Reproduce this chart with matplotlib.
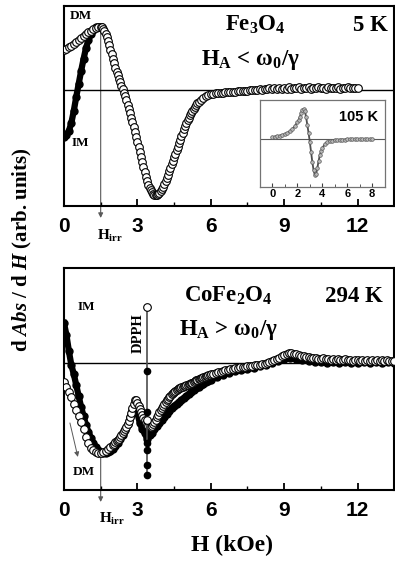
import numpy as np
import matplotlib
matplotlib.use('Agg')
import matplotlib.pyplot as plt
from matplotlib.ticker import MultipleLocator

plt.rcParams['mathtext.fontset'] = 'custom'
plt.rcParams['mathtext.rm'] = 'Liberation Serif:bold'
plt.rcParams['mathtext.it'] = 'Liberation Serif:italic:bold'
plt.rcParams['mathtext.bf'] = 'Liberation Serif:bold'

SERIF = 'Liberation Serif'
SANS = 'Liberation Sans'


def grid(start, stop, step):
    return np.round(np.arange(start, stop + step / 10, step), 2)


# Fe3O4, 5 K
fe_field = np.concatenate([grid(0, 1.5, 0.1), grid(1.55, 5.5, 0.05), grid(5.6, 12.0, 0.1)])
fe_open = [40, 41, 43, 44, 46, 48, 50, 52, 54, 56, 58, 59, 61, 62, 63, 63,
           62.5, 61, 59, 56, 53, 49, 45, 40, 36, 31,
           27, 22, 18, 15, 11, 8, 4, 1, -3, -6,
           -10, -15, -19, -23, -28, -32, -37, -42, -47, -52,
           -57, -62, -67, -72, -77, -82, -87, -91, -95, -98,
           -100, -102, -104, -105, -105.5, -105, -104, -103, -101, -99,
           -97, -94, -91, -88, -85, -81, -78, -74, -71, -67,
           -64, -60, -57, -53, -50, -46, -43, -39, -36, -33,
           -30, -28, -25, -23, -21, -19, -17, -15, -13.5, -12,
           -10, -8, -6.5, -5.5, -4.5, -4, -3.5, -3.5, -3, -3,
           -2.5, -2.5, -2, -2, -2, -1.5, -1.5, -1, -1, -1,
           -0.5, -0.5, 0, 0, 0.5, 0, 1, 0.5, 1.5, 0.5,
           1.5, 1, 2, 1, 2, 1, 2.5, 1, 2, 1.5,
           2.5, 1, 2, 1.5, 2.5, 1, 2, 1.5, 2.5, 1.5,
           2, 1, 2.5, 1.5, 2, 1.5, 2.5, 1, 2, 1.5,
           2.5, 1.5, 2, 1.5, 2]
fe_closed_field = grid(0, 1.5, 0.1)
fe_closed = [-47, -45, -41, -33, -21, -7, 6, 19, 31, 42, 50, 56, 60, 63, 63, 63]
fe_h_irr = 1.5

# Fe3O4, 105 K (inset)
inset_field = np.concatenate([grid(0, 1.8, 0.2), grid(2.0, 3.9, 0.1), grid(4.0, 8.0, 0.2)])
inset_signal = [2, 2.5, 3, 3.5, 4, 5, 6, 8, 10, 13,
                17, 19, 22, 26, 29, 30, 28, 22, 14, 6,
                -3, -13, -23, -31, -36, -35, -29, -22, -16, -12,
                -9, -5, -3, -2, -1.5, -1, -1, -0.5, -0.5, -0.5,
                0, 0, 0, 0, 0, 0, 0, 0, 0, 0, 0]

# CoFe2O4, 294 K
co_open_field = np.concatenate([grid(0, 1.9, 0.1), grid(2.0, 6.0, 0.05), grid(6.1, 13.5, 0.1)])
co_open = [-19, -24, -29, -34, -41, -47, -53, -59, -66, -74,
           -80, -85, -87, -89, -90, -90, -89, -88, -86, -84,
           -82, -81, -79, -78, -77, -75.5, -74, -72, -70, -68,
           -66, -63.5, -61, -58, -54, -50, -45, -41, -37, -37,
           -40, -43, -46, -49, -52, -55, -57, -60, -62, -63,
           -64, -64, -63, -61, -59, -57, -54, -51.5, -49, -47,
           -45, -43, -41, -39, -37, -35.5, -34, -32.5, -31, -30,
           -29, -28, -27, -26, -25, -24.5, -24, -23.5, -23, -22.5,
           -22, -21.5, -21, -20.5, -20, -19.5, -19, -18, -17, -16.5,
           -16, -15.5, -15, -14.5, -14, -13.5, -13, -12.5, -12, -11.5,
           -11,
           -10.5, -10, -9, -8.5, -8, -7, -6.5, -6, -5.5, -5,
           -4.5, -4, -4, -3.5, -3, -3, -2.5, -2, -2, -1.5,
           -1, -0.5, 0, 1, 2, 3, 4, 5.5, 7, 8,
           9, 10, 10, 9.5, 9, 8, 7.5, 7, 6.5, 6,
           5.5, 5, 5.5, 4.5, 4, 5, 4, 4.5, 3.5, 4,
           3, 4.5, 3.5, 3, 4, 3, 3.5, 2.5, 3.5, 3,
           2.5, 3.5, 2.5, 3, 2, 3.5, 2.5, 3, 2, 3,
           2.5, 3, 2, 2.5, 2]
co_closed_field = np.concatenate([grid(0, 6.0, 0.1), grid(6.25, 13.5, 0.25)])
co_closed = [40, 28, 12, -2, -11, -22, -33, -44, -53, -62,
             -69, -75, -80, -84, -87, -89, -90, -90, -89, -88,
             -86, -83, -80, -76, -72, -67, -61, -54, -47, -43,
             -50, -60, -66, -70, -76, -72, -70, -66, -63, -60,
             -57, -54, -51, -48, -45, -43, -41, -39, -37, -35,
             -33, -31, -29, -27, -25, -24, -22, -21, -19, -18,
             -17,
             -14, -12, -10, -8, -7, -6, -5, -3, -2, 0, 2, 4, 5, 4, 3,
             2, 1, 1, 0, 1, 0, 1, 0, 0, 1, 0, 1, 0, 1, 0]
co_h_irr = 1.5

# DPPH marker line
dpph_field = 3.4
dpph_open = [56, -57]
dpph_closed = [-8, -49, -80, -87, -102, -112]

fig = plt.figure(figsize=(3.95, 5.62), dpi=100)
ax1 = fig.add_axes([0.162, 0.6335, 0.836, 0.3559])
ax2 = fig.add_axes([0.162, 0.1281, 0.836, 0.395])

open_style = dict(ls='none', marker='o', ms=5.5, mfc='white', mec='black', mew=0.8)
closed_style = dict(ls='-', lw=4.5, marker='o', ms=5, color='black')


def style_axis(ax, ylim):
    ax.set_xlim(0, 13.5)
    ax.set_ylim(*ylim)
    ax.axhline(0, color='black', lw=1, zorder=1)
    ax.xaxis.set_major_locator(MultipleLocator(3))
    ax.xaxis.set_minor_locator(MultipleLocator(1.5))
    ax.tick_params(axis='x', which='major', direction='in', length=5, width=1.3, pad=8)
    ax.tick_params(axis='x', which='minor', direction='in', length=3, width=1.0)
    ax.set_yticks([])
    for s in ax.spines.values():
        s.set_linewidth(1.5)
    for lab in ax.get_xticklabels():
        lab.set_fontfamily(SANS)
        lab.set_fontweight('bold')
        lab.set_fontsize(15)


def h_irr_arrow(ax, h, start, stop_frac):
    ax.annotate('', xy=(h, stop_frac), xycoords=('data', 'axes fraction'),
                xytext=(h, start), textcoords='data',
                arrowprops=dict(arrowstyle='-|>', color='0.35', lw=0.8,
                                mutation_scale=7, shrinkA=0, shrinkB=0),
                annotation_clip=False, zorder=0)


# top panel: Fe3O4
style_axis(ax1, (-116, 84))
ax1.plot(fe_closed_field, fe_closed, zorder=2, **closed_style)
ax1.plot(fe_field, fe_open, zorder=3, **open_style)
h_irr_arrow(ax1, fe_h_irr, max(fe_open), -0.06)
ax1.text(fe_h_irr - 0.15, -0.17, r'H$_{\mathrm{irr}}$', transform=ax1.get_xaxis_transform(),
         family=SERIF, weight='bold', fontsize=11, ha='left', va='baseline')
txt = dict(family=SERIF, weight='bold', transform=ax1.transAxes)
ax1.text(0.018, 0.95, 'DM', fontsize=9.5, ha='left', va='center', **txt)
ax1.text(0.022, 0.315, 'IM', fontsize=9.5, ha='left', va='center', **txt)
ax1.text(0.579, 0.875, r'Fe$_3$O$_4$', fontsize=16.5, ha='center', va='baseline', **txt)
ax1.text(0.982, 0.875, '5 K', fontsize=16.5, ha='right', va='baseline', **txt)
ax1.text(0.564, 0.705, r'H$_\mathrm{A}$ < ω$_\mathrm{0}$/γ', fontsize=16.5,
         ha='center', va='baseline', **txt)

# inset: Fe3O4 at 105 K
axin = fig.add_axes([0.658, 0.667, 0.316, 0.155])
axin.set_facecolor('white')
axin.set_xlim(-1, 9)
axin.set_ylim(-48, 39)
axin.axhline(0, color='0.35', lw=0.8, zorder=1)
axin.plot(inset_field, inset_signal, ls='-', lw=1.3, color='0.3', marker='o', ms=2.6,
          mfc='0.72', mec='0.35', mew=0.5, zorder=2)
axin.xaxis.set_major_locator(MultipleLocator(2))
axin.xaxis.set_minor_locator(MultipleLocator(1))
axin.tick_params(axis='x', which='major', direction='in', length=3, width=0.8,
                 pad=1, colors='0.25')
axin.tick_params(axis='x', which='minor', direction='in', length=2, width=0.6, colors='0.25')
axin.set_yticks([])
for s in axin.spines.values():
    s.set_color('0.45')
    s.set_linewidth(0.9)
for lab in axin.get_xticklabels():
    lab.set_fontfamily(SANS)
    lab.set_fontweight('bold')
    lab.set_fontsize(8)
    lab.set_color('black')
axin.text(0.944, 0.76, '105 K', transform=axin.transAxes, family=SANS,
          weight='bold', fontsize=10.5, ha='right', va='baseline')

# bottom panel: CoFe2O4
style_axis(ax2, (-127, 95))
ax2.plot(co_closed_field, co_closed, zorder=2, **closed_style)
ax2.plot(co_open_field, co_open, zorder=3, **open_style)
ax2.vlines(dpph_field, min(dpph_closed), max(dpph_open), color='0.3', lw=1.2, zorder=4)
ax2.plot([dpph_field] * len(dpph_closed), dpph_closed, ls='none', marker='o',
         ms=4.5, color='black', zorder=5)
ax2.plot([dpph_field] * len(dpph_open), dpph_open, zorder=5, **open_style)
h_irr_arrow(ax2, co_h_irr, min(co_open), -0.054)
ax2.text(co_h_irr - 0.05, -0.149, r'H$_{\mathrm{irr}}$', transform=ax2.get_xaxis_transform(),
         family=SERIF, weight='bold', fontsize=11, ha='left', va='baseline')
ax2.annotate('', xy=(0.042, 0.149), xycoords='axes fraction',
             xytext=(0.018, 0.302), textcoords='axes fraction',
             arrowprops=dict(arrowstyle='-|>', color='0.35', lw=0.7,
                             mutation_scale=7, shrinkA=0, shrinkB=0))
txt = dict(family=SERIF, weight='bold', transform=ax2.transAxes)
ax2.text(0.042, 0.824, 'IM', fontsize=9.5, ha='left', va='center', **txt)
ax2.text(0.027, 0.081, 'DM', fontsize=9.5, ha='left', va='center', **txt)
ax2.text(0.224, 0.707, 'DPPH', fontsize=10.5, rotation=90, ha='center', va='center', **txt)
ax2.text(0.497, 0.847, r'CoFe$_2$O$_4$', fontsize=16.5, ha='center', va='baseline', **txt)
ax2.text(0.967, 0.847, '294 K', fontsize=16.5, ha='right', va='baseline', **txt)
ax2.text(0.497, 0.698, r'H$_\mathrm{A}$ > ω$_\mathrm{0}$/γ', fontsize=16.5,
         ha='center', va='baseline', **txt)

fig.text(0.056, 0.555, r'd $Abs$ / d $H$ (arb. units)', rotation=90, family=SERIF,
         weight='bold', fontsize=15, ha='center', va='center')
fig.text(0.587, 0.03, 'H (kOe)', family=SERIF, weight='bold', fontsize=17,
         ha='center', va='center')

fig.savefig('out.png', dpi=100)
